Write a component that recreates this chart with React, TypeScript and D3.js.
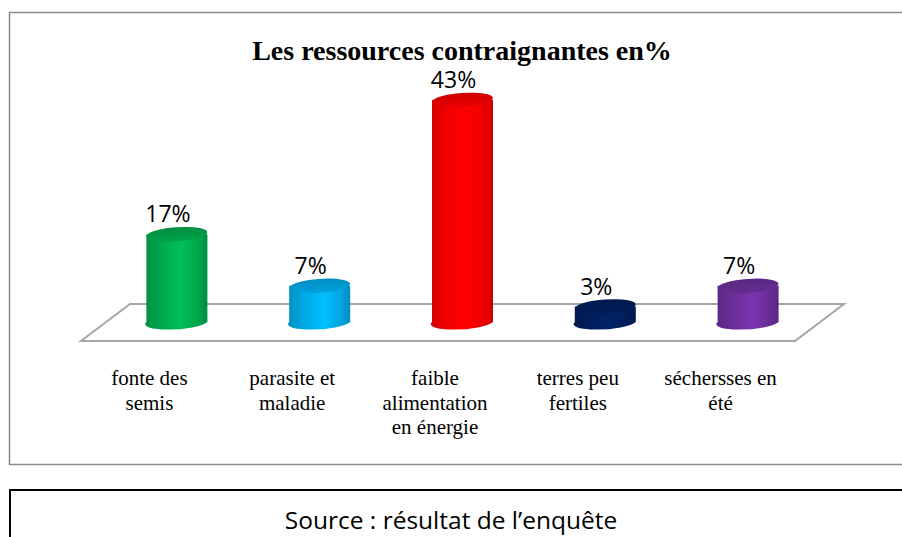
import React from "react";
import * as d3 from "d3";

const categories: string[][] = [
  ["fonte des", "semis"],
  ["parasite et", "maladie"],
  ["faible", "alimentation", "en énergie"],
  ["terres peu", "fertiles"],
  ["séchersses en", "été"],
];
const values: number[] = [17, 7, 43, 3, 7];
const colors: string[] = ["#00B050", "#00B0F0", "#FF0000", "#002060", "#7030A0"];
const valueLabels: string[] = ["17%", "7%", "43%", "3%", "7%"];
const title = "Les ressources contraignantes en%";
const source = "Source : résultat de l’enquête";

export default function App() {
  const W = 902;
  const H = 537;
  const keys = categories.map((c, i) => String(i));
  // floor geometry
  const backY = 304;
  const frontY = 341;
  const midY = 322;
  const xMid = d3.scaleBand<string>().domain(keys).range([105.5, 819.5]).padding(0);
  const xFront = d3.scaleBand<string>().domain(keys).range([81, 795]).padding(0);
  const xBack = d3.scaleBand<string>().domain(keys).range([130, 844]).padding(0);
  const xLabel = d3.scaleBand<string>().domain(keys).range([78, 792]).padding(0);
  const hScale = d3.scaleLinear().domain([0, 43]).range([0, 222]);
  const bw = 61;
  const rx = bw / 2;
  const ry = 7;
  const tilt = -4;

  const floorPts = [
    [xBack.range()[0], backY],
    [xBack.range()[1], backY],
    [xFront.range()[1], frontY],
    [xFront.range()[0], frontY],
  ];

  return (
    <svg width={W} height={H} style={{ position: "absolute", left: 0, top: 0, background: "#fff" }}>
      <defs>
        {colors.map((c, i) => {
          const base = d3.color(c)!;
          return (
            <React.Fragment key={i}>
              <linearGradient id={`body${i}`} x1="0" x2="1" y1="0" y2="0">
                <stop offset="0%" stopColor={base.darker(0.55).formatHex()} />
                <stop offset="25%" stopColor={base.darker(0.15).formatHex()} />
                <stop offset="58%" stopColor={base.brighter(0.25).formatHex()} />
                <stop offset="85%" stopColor={base.darker(0.2).formatHex()} />
                <stop offset="100%" stopColor={base.darker(0.6).formatHex()} />
              </linearGradient>
              <linearGradient id={`top${i}`} x1="0" x2="0" y1="0" y2="1">
                <stop offset="0%" stopColor={base.darker(0.6).formatHex()} />
                <stop offset="100%" stopColor={base.darker(0.25).formatHex()} />
              </linearGradient>
            </React.Fragment>
          );
        })}
      </defs>

      <rect x={9.5} y={12.5} width={905} height={452} fill="#fff" stroke="#8c8c8c" strokeWidth={1.5} />

      <text
        x={462}
        y={60}
        textAnchor="middle"
        fontFamily="'Liberation Serif', 'Times New Roman', serif"
        fontWeight="bold"
        fontSize={28}
        fill="#000"
      >
        {title}
      </text>

      <polygon
        points={floorPts.map((p) => p.join(",")).join(" ")}
        fill="#fff"
        stroke="#a6a6a6"
        strokeWidth={2}
      />

      {values.map((v, i) => {
        const k = keys[i];
        const cx = xMid(k)! + xMid.bandwidth() / 2;
        const h = hScale(v);
        const yb = midY;
        const yt = yb - h;
        const body = `M${cx - rx},${yt} L${cx - rx},${yb} A${rx},${ry} ${tilt} 0 0 ${cx + rx},${yb} L${cx + rx},${yt} Z`;
        return (
          <g key={i}>
            <path d={body} fill={`url(#body${i})`} />
            <ellipse
              cx={cx}
              cy={yt}
              rx={rx}
              ry={ry}
              transform={`rotate(${tilt} ${cx} ${yt})`}
              fill={`url(#top${i})`}
            />
            <text
              x={cx - 9}
              y={yt - ry - 5}
              textAnchor="middle"
              fontFamily="'Open Sans', 'Liberation Sans', sans-serif"
              fontSize={23}
              fill="#000"
            >
              {valueLabels[i]}
            </text>
          </g>
        );
      })}

      {categories.map((lines, i) => {
        const k = keys[i];
        const cx = xLabel(k)! + xLabel.bandwidth() / 2;
        return (
          <text
            key={i}
            x={cx}
            y={385}
            textAnchor="middle"
            fontFamily="'Liberation Serif', 'Times New Roman', serif"
            fontSize={21}
            fill="#000"
          >
            {lines.map((l, j) => (
              <tspan key={j} x={cx} dy={j === 0 ? 0 : 24.5}>
                {l}
              </tspan>
            ))}
          </text>
        );
      })}

      <rect x={10} y={490} width={900} height={60} fill="none" stroke="#000" strokeWidth={2} />
      <text
        x={451}
        y={529}
        textAnchor="middle"
        fontFamily="'Open Sans', 'Liberation Sans', sans-serif"
        fontSize={24.5}
        fill="#000"
      >
        {source}
      </text>
    </svg>
  );
}
